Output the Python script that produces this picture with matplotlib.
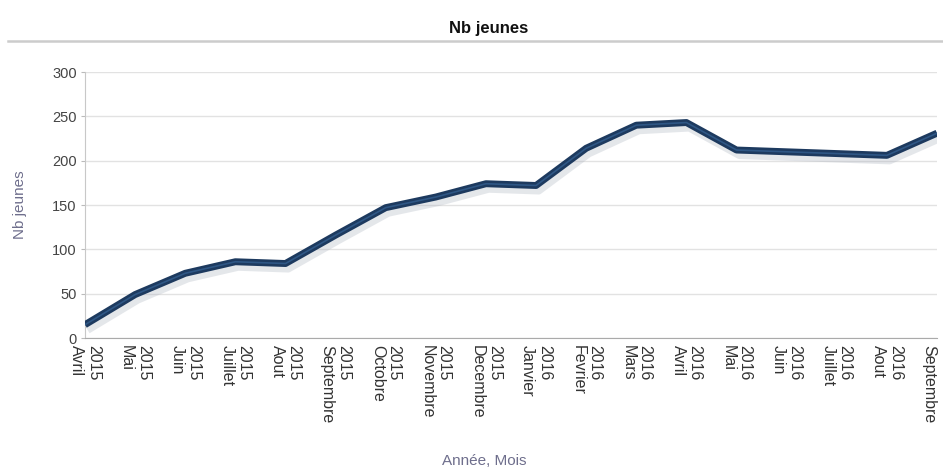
import matplotlib
matplotlib.use('Agg')
import matplotlib.pyplot as plt
import matplotlib.patheffects as pe
from matplotlib.lines import Line2D

# Nombre de jeunes par mois
mois = ['Avril', 'Mai', 'Juin', 'Juillet', 'Aout', 'Septembre', 'Octobre',
        'Novembre', 'Decembre', 'Janvier', 'Fevrier', 'Mars', 'Avril', 'Mai',
        'Juin', 'Juillet', 'Aout', 'Septembre']
annees = [2015] * 9 + [2016] * 9
nb_jeunes = [15, 49, 73, 86, 84, 116, 147, 159, 174, 172, 214, 240, 243,
             212, 210, 208, 206, 231]
y_ticks = [0, 50, 100, 150, 200, 250, 300]

plt.rcParams['font.family'] = ['Liberation Sans', 'DejaVu Sans']

fig = plt.figure(figsize=(9.43, 4.69), dpi=100)
ax = fig.add_axes([85 / 943, 1 - 338 / 469, (937 - 85) / 943, (338 - 72) / 469])

x = list(range(len(nb_jeunes)))
ax.plot(x, nb_jeunes, color='#1d3a5f', lw=5, solid_capstyle='butt',
        solid_joinstyle='round', zorder=3,
        path_effects=[pe.SimpleLineShadow(offset=(2, -4), shadow_color='#a8b0bc', alpha=0.3),
                      pe.Normal()])
ax.plot(x, nb_jeunes, color='#2f5785', lw=1.2, zorder=4)

ax.set_xlim(0, len(nb_jeunes) - 1)
ax.set_ylim(0, 300)
ax.set_yticks(y_ticks)
ax.set_xticks(x)
ax.set_xticklabels([f'{a}\n{m}' for a, m in zip(annees, mois)], rotation=270,
                   ha='center', va='top', fontsize=11.5, color='#333333',
                   linespacing=1.15, multialignment='left')
ax.tick_params(axis='x', length=0, pad=5)
ax.tick_params(axis='y', length=3, color='#bbbbbb', labelsize=10.5,
               labelcolor='#444444', pad=3)

ax.grid(axis='y', color='#e2e2e2', lw=1)
ax.set_axisbelow(True)
for s in ['top', 'right']:
    ax.spines[s].set_visible(False)
ax.spines['left'].set_color('#c8c8c8')
ax.spines['bottom'].set_color('#aaaaaa')

ax.set_ylabel('Nb jeunes', fontsize=11, color='#6e6e8c', labelpad=18)
fig.text(0.513, 1 - 461 / 469, 'Année, Mois', fontsize=11, color='#6e6e8c',
         ha='center', va='center')
fig.text(0.518, 1 - 28 / 469, 'Nb jeunes', fontsize=12, fontweight='bold',
         color='#111111', ha='center', va='center')
fig.add_artist(Line2D([8 / 943, 1], [1 - 41 / 469, 1 - 41 / 469],
                      color='#cccccc', lw=1.8, transform=fig.transFigure))

fig.savefig('out.png', dpi=100)
